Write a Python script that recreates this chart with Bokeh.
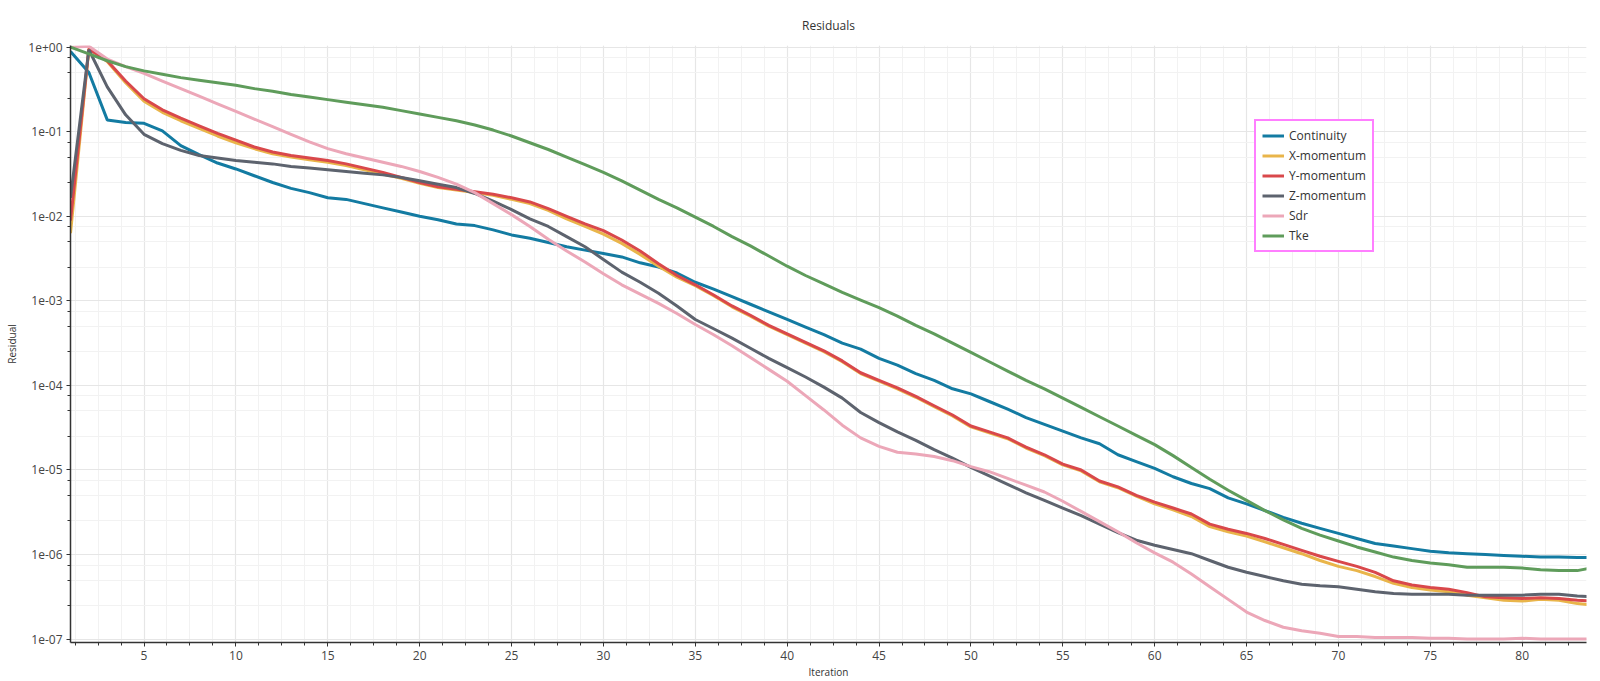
from bokeh.plotting import figure
from bokeh.models import (Range1d, CustomJSTickFormatter, Legend, LegendItem,
                          ColumnDataSource, SingleIntervalTicker)
from bokeh.embed import file_html
from bokeh.resources import INLINE

# ---- data (residuals stored as log10 exponents) ----
iterations = list(range(1, 85))

continuity_log10 = [
    -0.05, -0.30, -0.86, -0.89, -0.90, -0.99, -1.165, -1.27, -1.37, -1.44,
    -1.52, -1.60, -1.67, -1.72, -1.78, -1.80, -1.85, -1.90, -1.95, -2.00,
    -2.04, -2.09, -2.11, -2.16, -2.22, -2.26, -2.31, -2.36, -2.40, -2.44,
    -2.48, -2.55, -2.60, -2.67, -2.78, -2.86, -2.95, -3.04, -3.13, -3.22,
    -3.31, -3.40, -3.50, -3.57, -3.68, -3.76, -3.86, -3.94, -4.04, -4.10,
    -4.19, -4.28, -4.38, -4.46, -4.54, -4.62, -4.69, -4.82, -4.90, -4.98,
    -5.08, -5.16, -5.22, -5.33, -5.40, -5.48, -5.56, -5.63, -5.69, -5.75,
    -5.81, -5.87, -5.90, -5.93, -5.96, -5.98, -5.99, -6.00, -6.01, -6.02,
    -6.03, -6.03, -6.035, -6.035,
]

x_momentum_log10 = [
    -2.20, -0.02, -0.17, -0.42, -0.64, -0.77, -0.87, -0.96, -1.05, -1.13,
    -1.20, -1.26, -1.30, -1.33, -1.36, -1.40, -1.45, -1.50, -1.55, -1.61,
    -1.66, -1.69, -1.72, -1.75, -1.80, -1.85, -1.93, -2.03, -2.12, -2.21,
    -2.32, -2.45, -2.59, -2.72, -2.82, -2.94, -3.07, -3.18, -3.30, -3.40,
    -3.50, -3.60, -3.72, -3.86, -3.95, -4.04, -4.14, -4.25, -4.36, -4.49,
    -4.56, -4.63, -4.74, -4.83, -4.94, -5.01, -5.14, -5.21, -5.31, -5.40,
    -5.47, -5.55, -5.67, -5.73, -5.78, -5.85, -5.92, -5.99, -6.07, -6.14,
    -6.19, -6.26, -6.34, -6.39, -6.42, -6.44, -6.48, -6.51, -6.54, -6.55,
    -6.53, -6.54, -6.58, -6.60,
]

y_momentum_log10 = [
    -2.05, -0.02, -0.16, -0.40, -0.61, -0.74, -0.84, -0.93, -1.02, -1.10,
    -1.18, -1.24, -1.28, -1.31, -1.34, -1.38, -1.43, -1.48, -1.54, -1.60,
    -1.65, -1.68, -1.71, -1.74, -1.78, -1.83, -1.91, -2.00, -2.09, -2.17,
    -2.28, -2.41, -2.56, -2.70, -2.81, -2.93, -3.06, -3.17, -3.29, -3.39,
    -3.49, -3.59, -3.71, -3.85, -3.94, -4.03, -4.13, -4.24, -4.35, -4.48,
    -4.55, -4.62, -4.73, -4.82, -4.93, -5.00, -5.13, -5.20, -5.30, -5.38,
    -5.45, -5.52, -5.64, -5.70, -5.75, -5.81, -5.88, -5.95, -6.02, -6.08,
    -6.14, -6.21, -6.31, -6.36, -6.39, -6.41, -6.45, -6.50, -6.51, -6.52,
    -6.51, -6.52, -6.54, -6.55,
]

z_momentum_log10 = [
    -1.78, -0.03, -0.47, -0.80, -1.03, -1.14, -1.22, -1.28, -1.31, -1.34,
    -1.36, -1.38, -1.41, -1.43, -1.45, -1.47, -1.49, -1.51, -1.54, -1.58,
    -1.62, -1.66, -1.73, -1.82, -1.92, -2.03, -2.12, -2.24, -2.36, -2.51,
    -2.66, -2.78, -2.91, -3.06, -3.22, -3.33, -3.44, -3.56, -3.68, -3.79,
    -3.90, -4.02, -4.15, -4.32, -4.44, -4.55, -4.65, -4.76, -4.86, -4.97,
    -5.07, -5.17, -5.27, -5.36, -5.45, -5.54, -5.64, -5.74, -5.83, -5.89,
    -5.94, -5.99, -6.07, -6.15, -6.21, -6.26, -6.31, -6.35, -6.37, -6.38,
    -6.41, -6.44, -6.46, -6.47, -6.47, -6.47, -6.48, -6.48, -6.48, -6.48,
    -6.47, -6.47, -6.49, -6.50,
]

sdr_log10 = [
    0.00, 0.01, -0.14, -0.23, -0.31, -0.40, -0.49, -0.58, -0.67, -0.76,
    -0.85, -0.94, -1.03, -1.12, -1.20, -1.26, -1.31, -1.36, -1.41, -1.47,
    -1.54, -1.62, -1.72, -1.85, -1.98, -2.12, -2.27, -2.41, -2.54, -2.68,
    -2.81, -2.92, -3.03, -3.15, -3.28, -3.40, -3.53, -3.67, -3.81, -3.95,
    -4.12, -4.29, -4.47, -4.62, -4.72, -4.79, -4.81, -4.84, -4.89, -4.96,
    -5.02, -5.10, -5.18, -5.26, -5.37, -5.49, -5.61, -5.73, -5.86, -5.98,
    -6.09, -6.23, -6.38, -6.53, -6.68, -6.78, -6.86, -6.90, -6.93, -6.97,
    -6.97, -6.98, -6.98, -6.98, -6.99, -6.99, -7.00, -7.00, -7.00, -6.99,
    -7.00, -7.00, -7.00, -7.00,
]

tke_log10 = [
    0.00, -0.08, -0.16, -0.23, -0.28, -0.32, -0.36, -0.39, -0.42, -0.45,
    -0.49, -0.52, -0.56, -0.59, -0.62, -0.65, -0.68, -0.71, -0.75, -0.79,
    -0.83, -0.87, -0.92, -0.98, -1.05, -1.13, -1.21, -1.30, -1.39, -1.48,
    -1.58, -1.69, -1.80, -1.90, -2.01, -2.12, -2.24, -2.35, -2.47, -2.59,
    -2.70, -2.80, -2.90, -2.99, -3.08, -3.18, -3.29, -3.39, -3.50, -3.61,
    -3.72, -3.83, -3.94, -4.04, -4.15, -4.26, -4.37, -4.48, -4.59, -4.70,
    -4.83, -4.97, -5.11, -5.24, -5.36, -5.48, -5.59, -5.69, -5.77, -5.84,
    -5.91, -5.97, -6.03, -6.07, -6.10, -6.12, -6.15, -6.15, -6.15, -6.16,
    -6.18, -6.19, -6.19, -6.15,
]

series_names = ["Continuity", "X-momentum", "Y-momentum", "Z-momentum", "Sdr", "Tke"]
series_logs = [continuity_log10, x_momentum_log10, y_momentum_log10,
               z_momentum_log10, sdr_log10, tke_log10]
series_colors = ["#137ba2", "#e9b54a", "#d9484b", "#5d636e", "#eca7b8", "#5f9c5b"]

FONT = "Open Sans"

p = figure(width=1600, height=681, output_backend="svg", toolbar_location=None,
           y_axis_type="log",
           x_range=Range1d(1, 83.5), y_range=Range1d(10 ** -7.04, 10 ** 0.02),
           title="Residuals", x_axis_label="Iteration", y_axis_label="Residual",
           min_border_left=70, min_border_right=14, min_border_top=45, min_border_bottom=36)

p.title.align = "center"
p.title.text_font = FONT
p.title.text_font_size = "12px"
p.title.text_font_style = "normal"
p.title.text_color = "#333333"
p.title.standoff = 23

p.outline_line_color = None
p.background_fill_color = "white"
p.border_fill_color = "white"

p.xaxis.ticker = SingleIntervalTicker(interval=5, num_minor_ticks=4)

for ax in (p.xaxis[0], p.yaxis[0]):
    ax.major_label_text_font = FONT
    ax.major_label_text_font_size = "12px"
    ax.major_label_text_color = "#444444"
    ax.axis_label_text_font = FONT
    ax.axis_label_text_font_size = "10px"
    ax.axis_label_text_font_style = "normal"
    ax.axis_label_text_color = "#333333"
    ax.axis_line_color = "#333333"
    ax.axis_line_width = 1.5
    ax.major_tick_line_color = "#333333"
    ax.minor_tick_line_color = "#333333"
    ax.major_tick_out = 4
    ax.major_tick_in = 0
    ax.minor_tick_out = 3
    ax.minor_tick_in = 0
    ax.major_label_standoff = 4
    ax.axis_label_standoff = 2

p.yaxis[0].axis_label_standoff = 6

p.yaxis.ticker.num_minor_ticks = 4
p.yaxis.formatter = CustomJSTickFormatter(code="""
const e = Math.round(Math.log10(tick));
const s = e < 0 ? '-' : '+';
const a = Math.abs(e);
return '1e' + s + (a < 10 ? '0' + a : String(a));
""")

for g in (p.xgrid[0], p.ygrid[0]):
    g.grid_line_color = "#e6e6e6"
    g.grid_line_width = 1.2
    g.minor_grid_line_color = "#f2f2f2"
    g.minor_grid_line_width = 1

items = []
for name, logs, color in zip(series_names, series_logs, series_colors):
    src = ColumnDataSource(dict(x=iterations, y=[10 ** v for v in logs]))
    r = p.line("x", "y", source=src, line_color=color, line_width=3)
    items.append(LegendItem(label=name, renderers=[r]))

legend = Legend(items=items, location=(1184, 390))
legend.border_line_color = "#ff00ff"
legend.border_line_width = 2
legend.background_fill_color = "white"
legend.background_fill_alpha = 1
legend.label_text_font = FONT
legend.label_text_font_size = "12px"
legend.label_text_color = "#333333"
legend.glyph_width = 22
legend.glyph_height = 17
legend.label_height = 17
legend.spacing = 3
legend.padding = 6
legend.label_standoff = 5
legend.margin = 0
p.add_layout(legend, "center")

open("out.html", "w").write(file_html(p, INLINE))
